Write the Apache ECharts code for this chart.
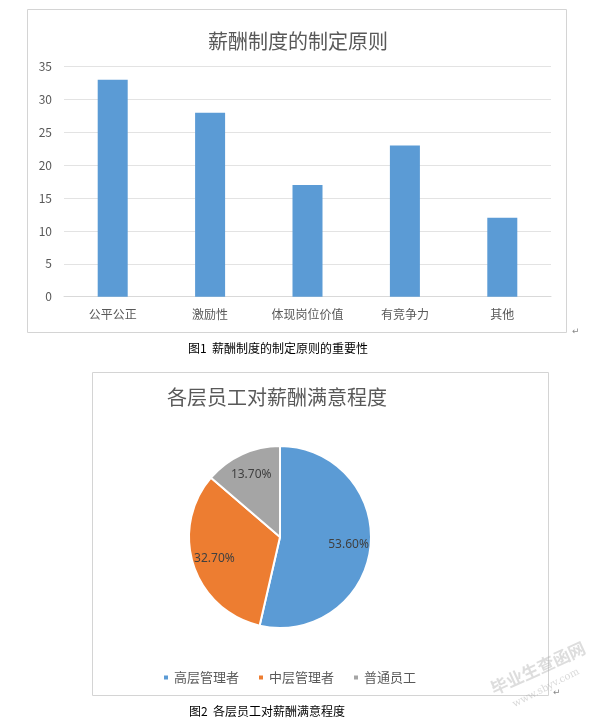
<!DOCTYPE html>
<html>
<head>
<meta charset="utf-8">
<script src="https://cdn.jsdelivr.net/npm/echarts@6/dist/echarts.min.js"></script>
<style>
html,body{margin:0;padding:0;background:#fff;}
#c{width:607px;height:726px;}
</style>
</head>
<body>
<div id="c"></div>
<script>
const barTitle = '薪酬制度的制定原则';
const categories = ['公平公正', '激励性', '体现岗位价值', '有竞争力', '其他'];
const barValues = [33, 28, 17, 23, 12];
const yMin = 0, yMax = 35, yInterval = 5;
const caption1 = '图1  薪酬制度的制定原则的重要性';

const pieTitle = '各层员工对薪酬满意程度';
const pieNames = ['高层管理者', '中层管理者', '普通员工'];
const pieValues = [53.6, 32.7, 13.7];
const caption2 = '图2  各层员工对薪酬满意程度';

const pieColors = ['#5B9BD5', '#ED7D31', '#A5A5A5'];
const cjk = '"Noto Sans CJK SC", "Noto Sans", sans-serif';

const chart = echarts.init(document.getElementById('c'), null, {renderer: 'canvas'});
const pieData = pieNames.map((n, i) => ({name: n, value: pieValues[i], itemStyle: {color: pieColors[i]}}));

chart.setOption({
  animation: false,
  backgroundColor: '#fff',
  grid: {left: 64, right: 56, top: 66.7, bottom: 429.3, containLabel: false},
  xAxis: {
    type: 'category',
    data: categories,
    axisLine: {lineStyle: {color: '#D9D9D9'}},
    axisTick: {show: false},
    axisLabel: {color: '#595959', fontSize: 12, fontFamily: cjk, margin: 12}
  },
  yAxis: {
    type: 'value',
    min: yMin, max: yMax, interval: yInterval,
    axisLine: {show: false},
    axisTick: {show: false},
    splitLine: {lineStyle: {color: '#E3E3E3', width: 1}},
    axisLabel: {color: '#595959', fontSize: 12, fontFamily: cjk, margin: 12}
  },
  legend: {
    left: 157, top: 666,
    icon: 'rect', itemWidth: 6, itemHeight: 6, itemGap: 18,
    selectedMode: false,
    textStyle: {color: '#595959', fontSize: 13, fontFamily: cjk},
    data: pieNames.map((n, i) => ({name: n, itemStyle: {color: pieColors[i]}}))
  },
  series: [
    {
      type: 'bar',
      data: barValues,
      barWidth: 30,
      itemStyle: {color: '#5B9BD5'},
      silent: true
    },
    {
      type: 'pie',
      center: [280, 537],
      radius: [0, 91],
      startAngle: 90,
      clockwise: true,
      data: pieData,
      label: {show: false},
      labelLine: {show: false},
      itemStyle: {borderColor: '#fff', borderWidth: 2},
      emphasis: {disabled: true},
      silent: true
    },
    {
      type: 'pie',
      center: [280, 537],
      radius: [41, 91],
      startAngle: 90,
      clockwise: true,
      data: pieNames.map((n, i) => ({name: n, value: pieValues[i], itemStyle: {color: 'rgba(255,255,255,0)', borderWidth: 0}})),
      label: {
        show: true, position: 'inside',
        formatter: p => p.value.toFixed(2) + '%',
        color: '#404040', fontSize: 12, fontFamily: '"Noto Sans", sans-serif'
      },
      labelLine: {show: false},
      emphasis: {disabled: true},
      silent: true,
      z: 5
    }
  ],
  graphic: [
    {type: 'rect', shape: {x: 27.5, y: 9.5, width: 539, height: 323}, style: {fill: 'none', stroke: '#D4D4D4', lineWidth: 1}, silent: true},
    {type: 'rect', shape: {x: 92.5, y: 372.5, width: 456, height: 323}, style: {fill: 'none', stroke: '#D4D4D4', lineWidth: 1}, silent: true},
    {type: 'text', x: 298, y: 41, style: {text: barTitle, font: '20px ' + cjk, fill: '#595959', textAlign: 'center', textVerticalAlign: 'middle', verticalAlign: 'middle'}, silent: true},
    {type: 'text', x: 167, y: 397, style: {text: pieTitle, font: '20px ' + cjk, fill: '#595959', textAlign: 'left', textVerticalAlign: 'middle', verticalAlign: 'middle'}, silent: true},
    {type: 'text', x: 188, y: 348, style: {text: caption1, font: '12px ' + cjk, fill: '#000', textAlign: 'left', textVerticalAlign: 'middle', verticalAlign: 'middle'}, silent: true},
    {type: 'text', x: 189, y: 711.5, style: {text: caption2, font: '12px ' + cjk, fill: '#000', textAlign: 'left', textVerticalAlign: 'middle', verticalAlign: 'middle'}, silent: true},
    {type: 'text', x: 572, y: 332, style: {text: '↵', font: '9px "DejaVu Sans"', fill: '#888', textAlign: 'left', textVerticalAlign: 'middle', verticalAlign: 'middle'}, silent: true},
    {type: 'text', x: 553, y: 693, style: {text: '↵', font: '9px "DejaVu Sans"', fill: '#888', textAlign: 'left', textVerticalAlign: 'middle', verticalAlign: 'middle'}, silent: true},
    {type: 'text', x: 538, y: 668, rotation: 0.43, style: {text: '毕业生查函网', font: 'bold 17px ' + cjk, fill: 'rgba(170,170,170,0.4)', textAlign: 'center', textVerticalAlign: 'middle', verticalAlign: 'middle'}, silent: true},
    {type: 'text', x: 546, y: 688, rotation: 0.48, style: {text: 'www.sbyv.com', font: '10px "DejaVu Serif"', fill: 'rgba(170,170,170,0.45)', textAlign: 'center', textVerticalAlign: 'middle', verticalAlign: 'middle'}, silent: true}
  ]
});
</script>
</body>
</html>
